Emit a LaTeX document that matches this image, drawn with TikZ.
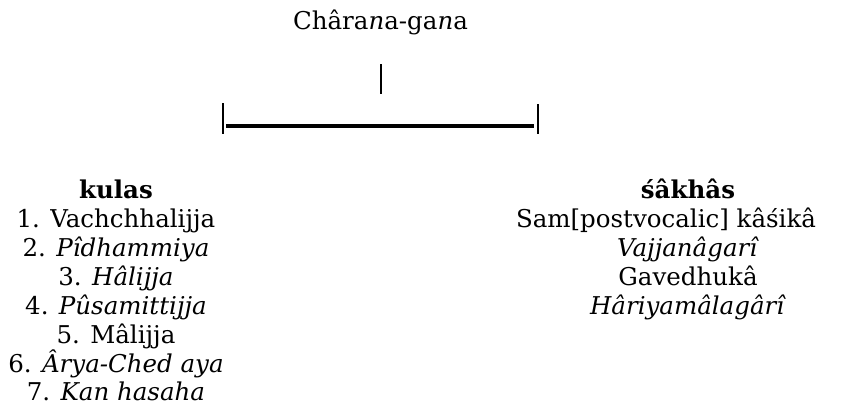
\documentclass[tikz,border=0pt]{standalone}
\usepackage{fontspec}
\setmainfont{DejaVu Serif}
\begin{document}
\begin{tikzpicture}[x=1pt,y=-1pt,
  txt/.style={inner sep=0pt, anchor=base, font=\fontsize{24.5}{29}\selectfont},
  tick/.style={line width=2pt},
  bar/.style={line width=4pt}]
\useasboundingbox (0,0) rectangle (842,405);

% heading
\node[txt] (title) at (380.5,29) {Châra\textit{n}a-ga\textit{n}a};

% bracket
\coordinate (stemT) at (380.7,64);
\coordinate (stemB) at (380.7,94);
\coordinate (lT) at (222.5,103);
\coordinate (lB) at (222.5,134);
\coordinate (rT) at (537.7,104);
\coordinate (rB) at (537.7,134);
\coordinate (barL) at (226,126);
\coordinate (barR) at (534,126);
\draw[tick] (stemT) -- (stemB);
\draw[tick] (lT) -- (lB);
\draw[tick] (rT) -- (rB);
\draw[bar] (barL) -- (barR);

% kulas column
\node[txt] (k0) at (116,198) {\textbf{kulas}};
\node[txt] (k1) at (116,227) {1. Vachchhalijja};
\node[txt] (k2) at (116,256) {2. \textit{Pîdhammiya}};
\node[txt] (k3) at (116,285) {3. \textit{Hâlijja}};
\node[txt] (k4) at (116,314) {4. \textit{Pûsamittijja}};
\node[txt] (k5) at (116,343) {5. Mâlijja};
\node[txt] (k6) at (116,372) {6. \textit{Ârya-Ched aya}};
\node[txt, text depth=0pt] (k7) at (116,400) {7. \textit{Kan hasaha}};

% sakhas column
\node[txt] (s0) at (688,198) {\textbf{śâkhâs}};
\node[txt] (s1) at (666,227) {Sam[postvocalic] kâśikâ};
\node[txt] (s2) at (688,256) {\textit{Vajjanâgarî}};
\node[txt] (s3) at (688,285) {Gavedhukâ};
\node[txt] (s4) at (688,314) {\textit{Hâriyamâlagârî}};
\end{tikzpicture}
\end{document}
